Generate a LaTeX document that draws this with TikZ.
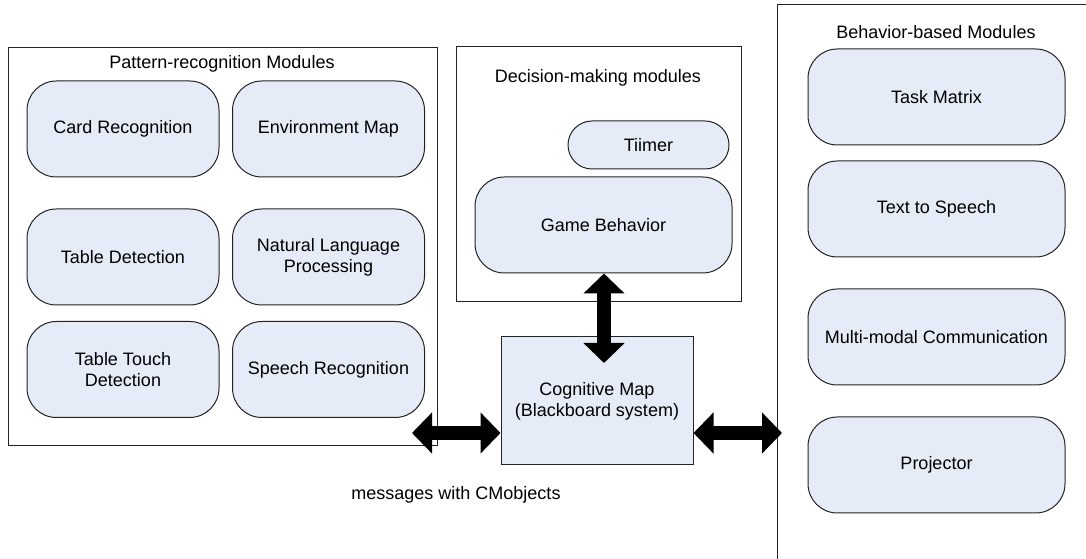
\documentclass[tikz,border=0pt]{standalone}
\usepackage{fontspec}
\setmainfont{Liberation Sans}
\usetikzlibrary{arrows.meta}
\definecolor{boxfill}{RGB}{230,236,247}
\definecolor{edgecol}{RGB}{35,35,35}
\begin{document}
\begin{tikzpicture}[x=0.75pt,y=-0.75pt,
  every node/.style={font=\fontsize{13.5}{15.75}\selectfont, text=black},
  module/.style={draw=edgecol, line width=0.75pt, fill=boxfill, rounded corners=22pt, align=center, inner sep=0pt},
  wide/.style={minimum width=144pt, minimum height=72pt},
  wider/.style={minimum width=192.75pt, minimum height=72pt},
  group/.style={draw=edgecol, line width=0.75pt, inner sep=0pt},
  bigarrow/.style={line width=10.5pt, {Triangle[length=15pt,width=30pt]}-{Triangle[length=15pt,width=30pt]}}]
\useasboundingbox (0,0) rectangle (1086,559);
\fill[white] (0,0) rectangle (1086,559);

% group frames
\node[group, minimum width=321.75pt, minimum height=298.5pt] (pr) at (222.5,247) {};
\node[group, minimum width=213.75pt, minimum height=191.25pt] (dm) at (598.5,174.5) {};
\draw[edgecol, line width=0.75pt] (1086,5) -- (777,5) -- (777,559);

% titles
\node (prt) at (222,64) {Pattern-recognition Modules};
\node (dmt) at (598,78) {Decision-making modules};
\node (bbt) at (936,32) {Behavior-based Modules};

% pattern-recognition modules
\node[module, wide] (card) at (123,129) {Card Recognition};
\node[module, wide] (env) at (328.5,129) {Environment Map};
\node[module, wide] (table) at (123,257) {Table Detection};
\node[module, wide] (nlp) at (328.5,257) {Natural Language\\Processing};
\node[module, wide] (touch) at (123,369.5) {Table Touch\\Detection};
\node[module, wide] (speech) at (328.5,369.5) {Speech Recognition};

% decision-making modules
\node[module, rounded corners=18pt, minimum width=120.75pt, minimum height=36pt] (timer) at (648.5,145) {Tiimer};
\node[module, wider] (game) at (603.5,225) {Game Behavior};

% behavior-based modules
\node[module, wider] (task) at (936.5,97) {Task Matrix};
\node[module, wider] (tts) at (936.5,209) {Text to Speech};
\node[module, wider] (mm) at (936.5,337) {Multi-modal Communication};
\node[module, wider] (proj) at (936.5,465) {Projector};

% cognitive map
\node[module, rounded corners=0pt, minimum width=144pt, minimum height=96pt] (cog) at (597,401) {Cognitive Map\\(Blackboard system)};

% message label
\node (msg) at (456,495) {messages with CMobjects};

% arrows
\coordinate (la) at (412,433);
\coordinate (ra) at (782,433);
\coordinate (va) at (604,363);
\draw[bigarrow] (la) -- (la -| cog.west);
\draw[bigarrow] (ra -| cog.east) -- (ra);
\draw[bigarrow] (game.south -| va) -- (va);
\end{tikzpicture}
\end{document}
